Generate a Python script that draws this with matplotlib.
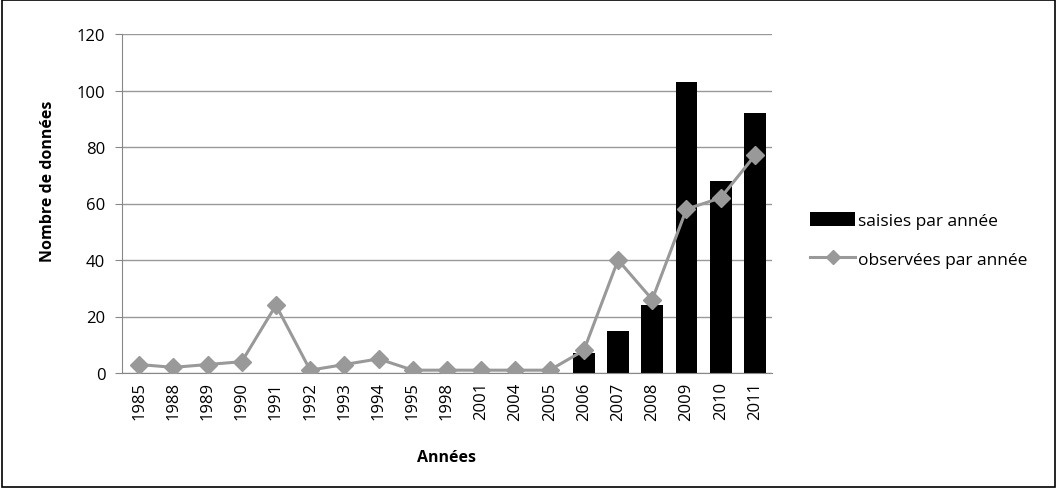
import matplotlib
matplotlib.use("Agg")
import matplotlib.pyplot as plt
from matplotlib.patches import Rectangle
from matplotlib.lines import Line2D
import numpy as np

years = ["1985", "1988", "1989", "1990", "1991", "1992", "1993", "1994", "1995",
         "1998", "2001", "2004", "2005", "2006", "2007", "2008", "2009", "2010", "2011"]
saisies = [0, 0, 0, 0, 0, 0, 0, 0, 0, 0, 0, 0, 0, 7, 15, 24, 103, 68, 92]
observees = [3, 2, 3, 4, 24, 1, 3, 5, 1, 1, 1, 1, 1, 8, 40, 26, 58, 62, 77]
yticks = [0, 20, 40, 60, 80, 100, 120]

plt.rcParams['font.family'] = ['Open Sans', 'DejaVu Sans']

fig = plt.figure(figsize=(10.57, 4.89), dpi=100)
ax = fig.add_axes([122/1057, 1 - 374/489, 650/1057, (374-35)/489])

x = np.arange(len(years))
b = ax.bar(x, saisies, width=0.64, color='black', label='saisies par année', zorder=2)
l, = ax.plot(x, observees, color='#999999', lw=2.2, marker='D', markersize=9,
             label='observées par année', zorder=3)

ax.set_xlim(-0.5, len(years) - 0.5)
ax.set_ylim(0, 120)
ax.set_yticks(yticks)
ax.set_yticklabels([str(v) for v in yticks], fontsize=12)
ax.set_xticks(x)
ax.set_xticklabels(years, rotation=90, fontsize=12)
ax.tick_params(axis='x', length=0, pad=6)
ax.tick_params(axis='y', length=5, color='#888888', pad=7)
ax.grid(axis='y', color='#999999', lw=1, zorder=0)
ax.set_axisbelow(True)
for s in ['top', 'right']:
    ax.spines[s].set_visible(False)
for s in ['left', 'bottom']:
    ax.spines[s].set_color('#888888')

ax.set_ylabel('Nombre de données', fontsize=11.5, fontweight='bold')
ax.yaxis.set_label_coords((48 - 122) / 650, (374 - 181) / 339)
ax.yaxis.label.set_va('center')
ax.set_xlabel('Années', fontsize=11.5, fontweight='bold')
ax.xaxis.set_label_coords(0.5, (374 - 458) / 339)
ax.xaxis.label.set_va('center')

lh = Line2D([], [], color='#999999', lw=2.2, marker='D', markersize=7)
fig.legend([b, lh], ['saisies par année', 'observées par année'],
           loc='center left', bbox_to_anchor=(803/1057, 1 - 241/489), frameon=False,
           fontsize=12.5, handlelength=2.6, handleheight=0.8, labelspacing=1.25,
           handletextpad=0.15, borderaxespad=0)

fig.patches.append(Rectangle((0.002, 0.002), 0.996, 0.996, transform=fig.transFigure,
                             fill=False, edgecolor='black', lw=1.2))

fig.savefig('out.png', dpi=100)
